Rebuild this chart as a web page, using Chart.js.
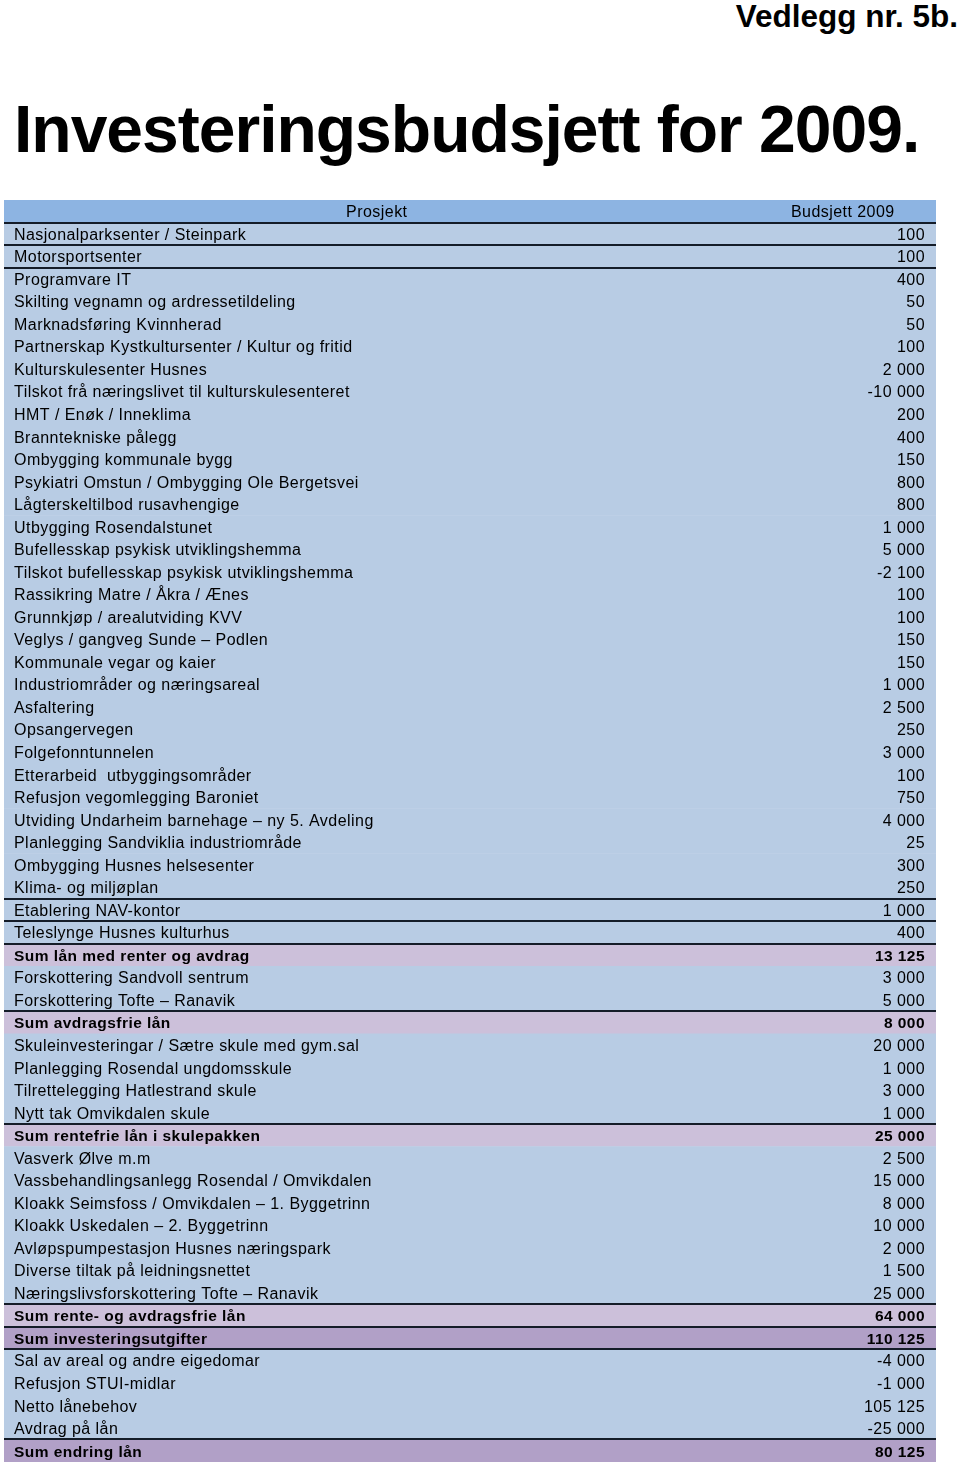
<!DOCTYPE html>
<html><head><meta charset="utf-8">
<script src="https://cdn.jsdelivr.net/npm/chart.js@4"></script>
<style>
body{margin:0;background:#fff;width:960px;height:1467px;position:relative;overflow:hidden;font-family:"Liberation Sans",Arial,sans-serif;color:#000}
#vedlegg{position:absolute;right:2px;top:1px;font-weight:bold;font-size:31.5px;line-height:31px;white-space:nowrap}
#title{position:absolute;left:14px;top:96px;font-weight:bold;font-size:66px;line-height:66px;letter-spacing:-1px;white-space:nowrap}
#wrap{position:absolute;left:4px;top:200px;width:932px;height:1262px}
</style></head><body>
<div id="vedlegg">Vedlegg nr. 5b.</div>
<div id="title">Investeringsbudsjett for 2009.</div>
<div id="wrap"><canvas id="c" width="932" height="1262"></canvas></div>
<script>
const headerLabels = ['Prosjekt', 'Budsjett 2009'];
const projects = [
  'Nasjonalparksenter / Steinpark',
  'Motorsportsenter',
  'Programvare IT',
  'Skilting vegnamn og ardressetildeling',
  'Marknadsføring Kvinnherad',
  'Partnerskap Kystkultursenter / Kultur og fritid',
  'Kulturskulesenter Husnes',
  'Tilskot frå næringslivet til kulturskulesenteret',
  'HMT / Enøk / Inneklima',
  'Branntekniske pålegg',
  'Ombygging kommunale bygg',
  'Psykiatri Omstun / Ombygging Ole Bergetsvei',
  'Lågterskeltilbod rusavhengige',
  'Utbygging Rosendalstunet',
  'Bufellesskap psykisk utviklingshemma',
  'Tilskot bufellesskap psykisk utviklingshemma',
  'Rassikring Matre / Åkra / Ænes',
  'Grunnkjøp / arealutviding KVV',
  'Veglys / gangveg Sunde – Podlen',
  'Kommunale vegar og kaier',
  'Industriområder og næringsareal',
  'Asfaltering',
  'Opsangervegen',
  'Folgefonntunnelen',
  'Etterarbeid  utbyggingsområder',
  'Refusjon vegomlegging Baroniet',
  'Utviding Undarheim barnehage – ny 5. Avdeling',
  'Planlegging Sandviklia industriområde',
  'Ombygging Husnes helsesenter',
  'Klima- og miljøplan',
  'Etablering NAV-kontor',
  'Teleslynge Husnes kulturhus',
  'Sum lån med renter og avdrag',
  'Forskottering Sandvoll sentrum',
  'Forskottering Tofte – Ranavik',
  'Sum avdragsfrie lån',
  'Skuleinvesteringar / Sætre skule med gym.sal',
  'Planlegging Rosendal ungdomsskule',
  'Tilrettelegging Hatlestrand skule',
  'Nytt tak Omvikdalen skule',
  'Sum rentefrie lån i skulepakken',
  'Vasverk Ølve m.m',
  'Vassbehandlingsanlegg Rosendal / Omvikdalen',
  'Kloakk Seimsfoss / Omvikdalen – 1. Byggetrinn',
  'Kloakk Uskedalen – 2. Byggetrinn',
  'Avløpspumpestasjon Husnes næringspark',
  'Diverse tiltak på leidningsnettet',
  'Næringslivsforskottering Tofte – Ranavik',
  'Sum rente- og avdragsfrie lån',
  'Sum investeringsutgifter',
  'Sal av areal og andre eigedomar',
  'Refusjon STUI-midlar',
  'Netto lånebehov',
  'Avdrag på lån',
  'Sum endring lån'
];
const budget = [
  100, 100, 400, 50, 50, 100, 2000, -10000, 200, 400,
  150, 800, 800, 1000, 5000, -2100, 100, 100, 150, 150,
  1000, 2500, 250, 3000, 100, 750, 4000, 25, 300, 250,
  1000, 400, 13125, 3000, 5000, 8000, 20000, 1000, 3000, 1000,
  25000, 2500, 15000, 8000, 10000, 2000, 1500, 25000, 64000, 110125,
  -4000, -1000, 105125, -25000, 80125
];
// row kind: i = item, s = subtotal, t = total
const rowKind = [
  'i','i','i','i','i','i','i','i','i','i',
  'i','i','i','i','i','i','i','i','i','i',
  'i','i','i','i','i','i','i','i','i','i',
  'i','i','s','i','i','s','i','i','i','i',
  's','i','i','i','i','i','i','i','s','t',
  'i','i','i','i','t'
];
// style: separator lines drawn above these table rows (0 = header row)
const separatorsBefore = [1, 2, 3, 31, 32, 33, 36, 41, 49, 50, 51, 55];
const colours = { h: '#8db4e2', i: '#b8cce4', s: '#ccc0da', t: '#b1a0c7' };
const FONT = '"Liberation Sans", Arial, sans-serif';

function fmt(n) {
  const s = Math.abs(n).toString().replace(/\B(?=(\d{3})+(?!\d))/g, ' ');
  return (n < 0 ? '-' : '') + s;
}
const kinds = ['h'].concat(rowKind);
const leftLabels = [''].concat(projects);
const rightLabels = [''].concat(budget.map(fmt));
const cells = kinds.map(() => [0, 1]);
const isBold = i => kinds[i] === 's' || kinds[i] === 't';
const colSplit = 0.8;
const tickFont = ctx => isBold(ctx.index)
  ? { family: FONT, size: 15.5, weight: 'bold' }
  : { family: FONT, size: 16, weight: 'normal' };

const spacingPlugin = {
  id: 'spacing',
  beforeLayout(chart) { chart.ctx.letterSpacing = '0.45px'; },
  beforeDraw(chart) { chart.ctx.letterSpacing = '0.45px'; }
};

const headerPlugin = {
  id: 'header',
  afterDraw(chart) {
    const c = chart.ctx, x = chart.scales.x, y = chart.scales.y;
    const py = y.getPixelForValue(0) + 1.5;
    c.save();
    c.font = '16px ' + FONT;
    c.fillStyle = '#000';
    c.textAlign = 'center';
    c.textBaseline = 'middle';
    c.fillText(headerLabels[0], x.getPixelForValue(colSplit / 2), py);
    c.fillText(headerLabels[1], x.getPixelForValue((colSplit + 1) / 2), py);
    c.restore();
  }
};

const noSpace = s => { s.width = 0; s.paddingTop = 0; s.paddingBottom = 0; };

new Chart(document.getElementById('c'), {
  type: 'bar',
  data: {
    labels: leftLabels,
    datasets: [{
      data: cells,
      backgroundColor: kinds.map(k => colours[k]),
      borderWidth: 0,
      barPercentage: 1,
      categoryPercentage: 1
    }]
  },
  options: {
    indexAxis: 'y',
    responsive: false,
    devicePixelRatio: 1,
    animation: false,
    layout: { padding: 0 },
    plugins: { legend: { display: false }, tooltip: { enabled: false } },
    scales: {
      x: { type: 'linear', min: 0, max: 1, display: false },
      y: {
        type: 'category', position: 'left', offset: true,
        border: { display: false },
        grid: {
          offset: true, drawTicks: false, lineWidth: 2, z: 1,
          color: ctx => separatorsBefore.includes(ctx.index) ? '#141c28' : 'rgba(0,0,0,0)'
        },
        ticks: { mirror: true, padding: 10, labelOffset: 1.5, autoSkip: false, color: '#000', z: 1, font: tickFont },
        afterFit: noSpace
      },
      yR: {
        type: 'category', labels: rightLabels, position: 'right', offset: true,
        border: { display: false },
        grid: { display: false, offset: true },
        ticks: { mirror: true, padding: -11, labelOffset: 1.5, autoSkip: false, color: '#000', z: 1, font: tickFont },
        afterFit: noSpace
      }
    }
  },
  plugins: [spacingPlugin, headerPlugin]
});
</script>
</body></html>
